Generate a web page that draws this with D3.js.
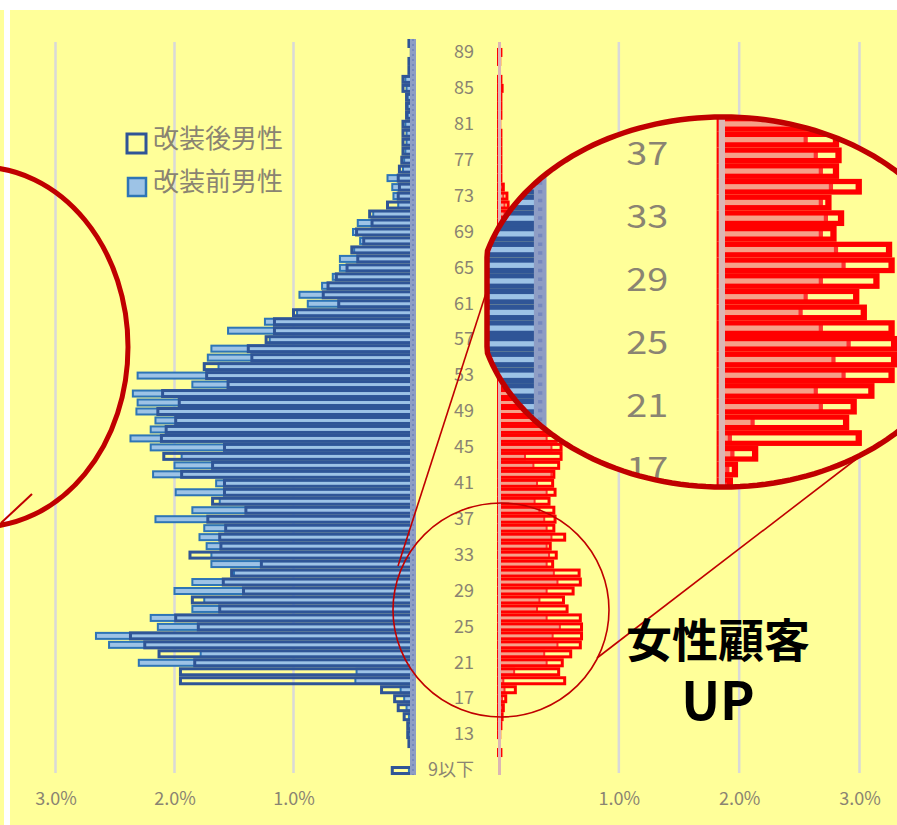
<!DOCTYPE html>
<html>
<head>
<meta charset="utf-8">
<script src="https://cdn.jsdelivr.net/npm/d3@7"></script>
<style>
  html, body { margin: 0; padding: 0; background: #fff; }
  svg text { font-family: "Noto Sans CJK JP", "Noto Sans", sans-serif; }
</style>
</head>
<body>
<div id="chart"></div>
<script>
// age categories, bottom to top
var ages = ["9以下","10","11","12","13","14","15","16","17","18","19",
  "20","21","22","23","24","25","26","27","28","29",
  "30","31","32","33","34","35","36","37","38","39",
  "40","41","42","43","44","45","46","47","48","49",
  "50","51","52","53","54","55","56","57","58","59",
  "60","61","62","63","64","65","66","67","68","69",
  "70","71","72","73","74","75","76","77","78","79",
  "80","81","82","83","84","85","86","87","88","89","90"];
var ageTicks = ["9以下","13","17","21","25","29","33","37","41","45","49",
  "53","57","61","65","69","73","77","81","85","89"];
var lensTicks = ["17","21","25","29","33","37"];
var pctTicks = [1, 2, 3];

// share of customers (%), same order as ages
var maleAfter = [0.17,0,0,0.03,0.04,0.04,0.07,0.12,0.15,0.26,1.95,
  1.95,1.83,2.13,2.25,2.37,1.80,1.99,1.62,1.85,1.42,
  1.59,1.52,1.27,1.87,1.61,1.62,1.57,1.72,1.40,1.68,
  1.58,1.58,1.94,1.68,2.09,1.58,2.11,2.07,1.99,2.14,
  1.96,2.10,1.55,1.73,1.75,1.35,1.38,1.23,1.16,1.16,
  1.00,0.62,0.75,0.71,0.64,0.55,0.46,0.51,0.41,0.47,
  0.34,0.36,0.21,0.12,0.11,0.12,0.11,0.09,0.08,0.08,
  0.08,0.08,0.05,0.05,0.05,0.08,0.08,0.03,0.03,0.01,0.03];
var maleBefore = [0.03,0,0,0.01,0.02,0.02,0.03,0.05,0.07,0.10,0.48,
  0.47,2.30,1.78,2.55,2.66,2.14,2.20,1.85,1.75,2.00,
  1.85,1.50,1.69,1.69,1.73,1.79,1.75,2.16,1.85,1.62,
  1.99,1.65,2.18,2.00,1.94,2.20,2.37,2.20,2.16,2.32,
  2.31,2.35,1.85,2.31,1.63,1.72,1.69,1.20,1.55,1.24,
  0.97,0.88,0.95,0.76,0.67,0.61,0.61,0.49,0.44,0.50,
  0.46,0.33,0.12,0.16,0.17,0.21,0.08,0.07,0.06,0.05,
  0.05,0.06,0.04,0.04,0.04,0.05,0.06,0.02,0.02,0.01,0.02];
var femaleAfter = [0,0,0.02,0,0.01,0.02,0.03,0.04,0.06,0.14,0.55,
  0.50,0.53,0.60,0.68,0.69,0.69,0.68,0.57,0.54,0.62,
  0.68,0.67,0.45,0.48,0.43,0.55,0.46,0.47,0.46,0.42,
  0.47,0.45,0.46,0.50,0.52,0.52,0.48,0.43,0.45,0.42,
  0.40,0.38,0.37,0.34,0.33,0.31,0.30,0.28,0.27,0.25,
  0.24,0.22,0.21,0.19,0.18,0.17,0.15,0.15,0.13,0.13,
  0.11,0.10,0.08,0.07,0.04,0.02,0.02,0.02,0.02,0.02,
  0.02,0.01,0.02,0.02,0.02,0.03,0.02,0,0.01,0.02,0];
var femaleBefore = [0,0,0.01,0,0,0.01,0.01,0.02,0.03,0.05,0.04,
  0.13,0.40,0.38,0.49,0.45,0.51,0.40,0.32,0.34,0.40,
  0.49,0.46,0.40,0.42,0.40,0.44,0.40,0.38,0.34,0.30,
  0.40,0.32,0.44,0.29,0.22,0.44,0.40,0.38,0.40,0.36,
  0.35,0.33,0.30,0.31,0.28,0.26,0.25,0.22,0.21,0.19,
  0.18,0.16,0.15,0.14,0.12,0.12,0.10,0.09,0.08,0.07,
  0.06,0.05,0.05,0.04,0.03,0.01,0.01,0.01,0.01,0.01,
  0.01,0.01,0.01,0.01,0.01,0.02,0.01,0,0.01,0.01,0];

var legendLabels = ["改装後男性", "改装前男性"];

var W = 897, H = 825;
var red = "#c00000", textCol = "#8a8472";

var svg = d3.select("#chart").append("svg")
    .attr("width", W).attr("height", H);

svg.append("rect").attr("x", 0).attr("y", 0).attr("width", W).attr("height", H).attr("fill", "#fff");
svg.append("rect").attr("x", 10).attr("y", 10).attr("width", W - 10).attr("height", H - 10).attr("fill", "#ffff99");
svg.append("rect").attr("x", 0).attr("y", 10).attr("width", 4).attr("height", H - 10).attr("fill", "#ffff99");

var y = d3.scaleBand().domain(ages.slice().reverse()).range([39, 775]);
var xm = d3.scaleLinear().domain([0, 3]).range([412.5, 55.5]);
var xf = d3.scaleLinear().domain([0, 3]).range([498.5, 859.5]);
var barH = 6;

function rows(vals) {
    return ages.map(function(a, i) { return {age: a, v: vals[i]}; })
        .filter(function(d) { return d.v > 0; });
}

function drawPlot(g, labels) {
    // gridlines
    g.append("g").selectAll("line").data(pctTicks).enter().append("line")
        .attr("x1", function(d) { return xm(d); }).attr("x2", function(d) { return xm(d); })
        .attr("y1", 42).attr("y2", 773)
        .attr("stroke", "#d9d9d9").attr("stroke-width", 2.5);
    g.append("g").selectAll("line").data(pctTicks).enter().append("line")
        .attr("x1", function(d) { return xf(d); }).attr("x2", function(d) { return xf(d); })
        .attr("y1", 42).attr("y2", 773)
        .attr("stroke", "#d9d9d9").attr("stroke-width", 2.5);

    // male bars
    g.append("g").selectAll("rect").data(rows(maleBefore)).enter().append("rect")
        .attr("x", function(d) { return xm(d.v); })
        .attr("width", function(d) { return xm(0) - xm(d.v); })
        .attr("y", function(d) { return y(d.age) + (y.bandwidth() - barH) / 2; })
        .attr("height", barH)
        .attr("fill", "#9dc3e6").attr("stroke", "#2e75b6").attr("stroke-width", 2);
    g.append("g").selectAll("rect").data(rows(maleAfter)).enter().append("rect")
        .attr("x", function(d) { return xm(d.v); })
        .attr("width", function(d) { return xm(0) - xm(d.v); })
        .attr("y", function(d) { return y(d.age) + (y.bandwidth() - barH) / 2; })
        .attr("height", barH)
        .attr("fill", "none").attr("stroke", "#2f5597").attr("stroke-width", 3);

    // female bars
    g.append("g").selectAll("rect").data(rows(femaleBefore)).enter().append("rect")
        .attr("x", xf(0))
        .attr("width", function(d) { return xf(d.v) - xf(0); })
        .attr("y", function(d) { return y(d.age) + (y.bandwidth() - barH) / 2; })
        .attr("height", barH)
        .attr("fill", "#f6a088").attr("stroke", "#ff3030").attr("stroke-width", 2);
    g.append("g").selectAll("rect").data(rows(femaleAfter)).enter().append("rect")
        .attr("x", xf(0))
        .attr("width", function(d) { return xf(d.v) - xf(0); })
        .attr("y", function(d) { return y(d.age) + (y.bandwidth() - barH) / 2; })
        .attr("height", barH)
        .attr("fill", "none").attr("stroke", "#ff0000").attr("stroke-width", 3);

    // axis lines
    g.append("line").attr("x1", 413).attr("x2", 413).attr("y1", 39).attr("y2", 775)
        .attr("stroke", "#8e9dc4").attr("stroke-width", 6);
    g.append("line").attr("x1", 413).attr("x2", 413).attr("y1", 39).attr("y2", 775)
        .attr("stroke", "#7688bd").attr("stroke-width", 2).attr("stroke-dasharray", "2,3");
    g.append("line").attr("x1", 499.5).attr("x2", 499.5).attr("y1", 42).attr("y2", 775)
        .attr("stroke", "#dcb6b4").attr("stroke-width", 3);

    // age labels
    var ay = g.append("g").attr("transform", "translate(478,0)")
        .call(d3.axisLeft(y).tickValues(labels).tickSize(0).tickPadding(4));
    ay.select(".domain").remove();
    ay.selectAll("text").attr("fill", textCol).attr("font-size", 18)
        .attr("font-family", "'Noto Sans CJK JP', sans-serif");
}

drawPlot(svg.append("g"), ageTicks);

// percent tick labels
function pctAxis(scale) {
    var ax = svg.append("g").attr("transform", "translate(0,789)")
        .call(d3.axisBottom(scale).tickValues(pctTicks).tickSize(0)
            .tickFormat(function(d) { return d.toFixed(1) + "%"; }));
    ax.select(".domain").remove();
    ax.selectAll("text").attr("fill", textCol).attr("font-size", 18)
        .attr("font-family", "'Noto Sans CJK JP', sans-serif");
}
pctAxis(xm);
pctAxis(xf);

// legend
var lg = svg.append("g");
lg.append("rect").attr("x", 127).attr("y", 134).attr("width", 19).attr("height", 19)
    .attr("fill", "none").attr("stroke", "#2f5597").attr("stroke-width", 3);
lg.append("rect").attr("x", 128).attr("y", 178).attr("width", 18).attr("height", 18)
    .attr("fill", "#9dc3e6").attr("stroke", "#2e75b6").attr("stroke-width", 2.5);
lg.selectAll("text").data(legendLabels).enter().append("text")
    .attr("x", 153).attr("y", function(d, i) { return 148 + i * 43; })
    .attr("font-size", 26).attr("fill", textCol)
    .text(function(d) { return d; });

// big ellipse on the left
svg.append("ellipse").attr("cx", -20).attr("cy", 347).attr("rx", 148).attr("ry", 180)
    .attr("fill", "none").attr("stroke", red).attr("stroke-width", 5);
svg.append("path").attr("d", "M1,523 L32,494")
    .attr("fill", "none").attr("stroke", red).attr("stroke-width", 2);

// small circle around the young female rows
svg.append("ellipse").attr("cx", 501).attr("cy", 610).attr("rx", 108).attr("ry", 107)
    .attr("fill", "none").attr("stroke", red).attr("stroke-width", 1.6);
svg.append("line").attr("x1", 487).attr("y1", 290).attr("x2", 398).attr("y2", 566)
    .attr("stroke", red).attr("stroke-width", 1.6);
svg.append("line").attr("x1", 597).attr("y1", 658).attr("x2", 872).attr("y2", 447)
    .attr("stroke", red).attr("stroke-width", 1.6);

// magnifier lens: ellipse cut flat on its left side
var lensPts = d3.range(0, 361, 2).map(function(t) {
    var a = t * Math.PI / 180;
    return [Math.max(487, 723 + 245 * Math.cos(a)), 302 + 185 * Math.sin(a)];
});
var lensPath = d3.line()(lensPts) + "Z";
svg.append("defs").append("clipPath").attr("id", "lens")
    .append("path").attr("d", lensPath);
var lens = svg.append("g").attr("clip-path", "url(#lens)");
lens.append("rect").attr("x", 480).attr("y", 110).attr("width", 420).attr("height", 385)
    .attr("fill", "#ffff99");
drawPlot(lens.append("g").attr("transform", "translate(-327.1,-753.25) scale(2.1,1.75)"), lensTicks);
svg.append("path").attr("d", lensPath)
    .attr("fill", "none").attr("stroke", red).attr("stroke-width", 5.5);

// callout
var note = svg.append("g").attr("font-weight", 700).attr("fill", "#000").attr("text-anchor", "middle");
note.append("text").attr("x", 718).attr("y", 657).attr("font-size", 46).text("女性顧客");
note.append("text").attr("x", 718).attr("y", 720).attr("font-size", 52)
    .attr("font-family", "'Liberation Sans', sans-serif").text("UP");
</script>
</body>
</html>
